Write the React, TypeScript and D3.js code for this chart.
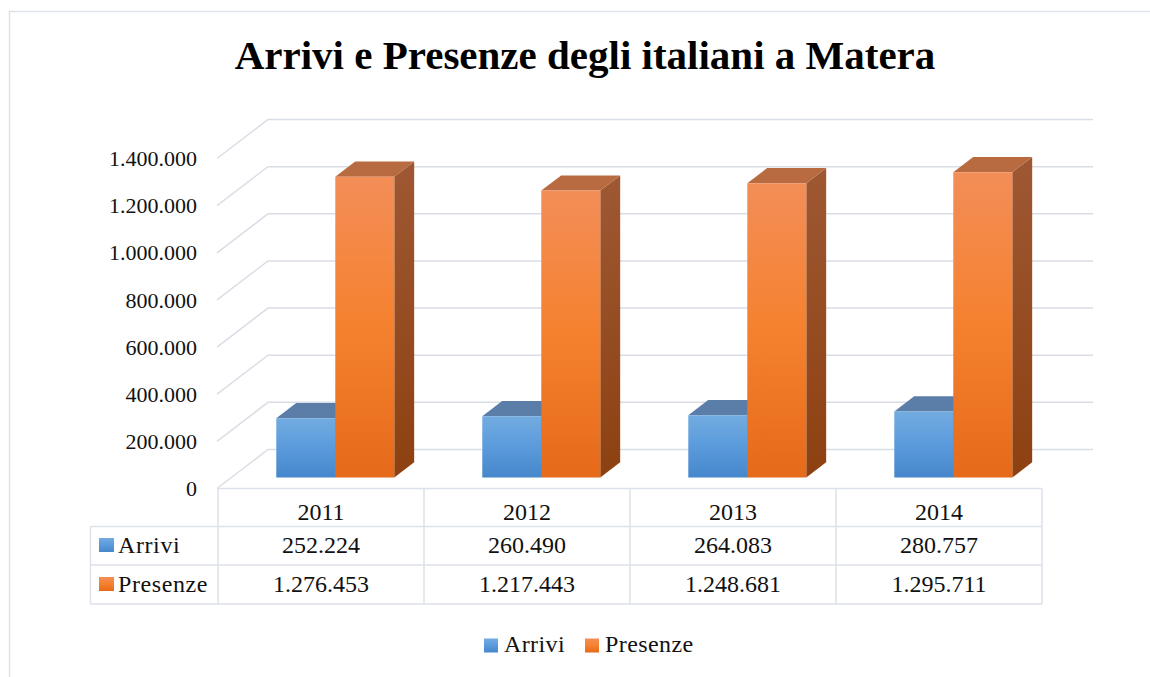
import React, { useRef, useEffect } from 'react';
import * as d3 from 'd3';

const YEARS = ['2011', '2012', '2013', '2014'];
const SERIES = ['Arrivi', 'Presenze'];
const ARRIVI = [252224, 260490, 264083, 280757];
const PRESENZE = [1276453, 1217443, 1248681, 1295711];
const Y_TICKS = [0, 200000, 400000, 600000, 800000, 1000000, 1200000, 1400000];

const FONT = '"Liberation Serif", "Times New Roman", serif';
const GRID = '#d9dde6';

const itFormat = d3.formatLocale({ decimal: ',', thousands: '.', grouping: [3], currency: ['', ''] }).format(',');

const App: React.FC = () => {
  const svgRef = useRef<SVGSVGElement>(null);

  useEffect(() => {
    if (!svgRef.current) return;
    const W = 1150, H = 677;
    const svg = d3.select(svgRef.current);
    svg.selectAll('*').remove();
    svg.attr('width', W).attr('height', H).attr('viewBox', `0 0 ${W} ${H}`);

    // depth of the 3d floor
    const DX = 51, DY = 39;
    const F0 = 0.28, F1 = 0.67;

    const x = d3.scaleBand().domain(YEARS).range([218, 1042]);
    const y = d3.scaleLinear().domain([0, 1400000]).range([488.5, 158.5]);
    const inner = d3.scaleBand().domain(SERIES).range([44, 162]);
    const values: Record<string, number[]> = { Arrivi: ARRIVI, Presenze: PRESENZE };

    const P = (px: number, v: number, f: number): [number, number] => [px + f * DX, y(v) - f * DY];

    const defs = svg.append('defs');
    const grad = (id: string, stops: [string, string][]) => {
      const g = defs.append('linearGradient').attr('id', id)
        .attr('x1', '0').attr('y1', '0').attr('x2', '0').attr('y2', '1');
      stops.forEach(([o, c]) => g.append('stop').attr('offset', o).attr('stop-color', c));
    };
    grad('blueFront', [['0%', '#72abe0'], ['50%', '#5b9bdc'], ['100%', '#4587cb']]);
    grad('orangeFront', [['0%', '#f38e58'], ['50%', '#f5812e'], ['100%', '#e56a19']]);
    grad('orangeSide', [['0%', '#9e5833'], ['100%', '#8d4111']]);
    grad('blueSide', [['0%', '#4c6f95'], ['100%', '#2f5d8f']]);

    const colors: Record<string, { front: string; top: string; side: string }> = {
      Arrivi: { front: 'url(#blueFront)', top: '#5a7ea7', side: 'url(#blueSide)' },
      Presenze: { front: 'url(#orangeFront)', top: '#b86b41', side: 'url(#orangeSide)' },
    };

    // chart frame
    svg.append('path')
      .attr('d', `M9.5,${H + 5} V11.5 H${W + 5}`)
      .attr('fill', 'none').attr('stroke', '#dde1e8').attr('stroke-width', 1.5);

    // title
    svg.append('text')
      .attr('x', 585).attr('y', 69)
      .attr('text-anchor', 'middle')
      .attr('font-family', FONT).attr('font-weight', 'bold').attr('font-size', 41)
      .attr('fill', '#000')
      .text('Arrivi e Presenze degli italiani a Matera');

    // grid: diagonal on left wall + back lines
    const x0 = x.range()[0], xEnd = x.range()[1];
    const grid = svg.append('g');
    Y_TICKS.forEach(t => {
      const [fx, fy] = P(x0 - 1, t, 0);
      const [bx, by] = P(x0 - 1, t, 1);
      const [ex] = P(xEnd, t, 1);
      grid.append('path')
        .attr('d', `M${fx},${fy} L${bx},${by} H${ex}`)
        .attr('fill', 'none').attr('stroke', GRID).attr('stroke-width', 1.5);
    });

    // y tick labels
    svg.append('g').selectAll('text').data(Y_TICKS).join('text')
      .attr('x', 197).attr('y', d => y(d))
      .attr('dy', '0.35em')
      .attr('text-anchor', 'end')
      .attr('font-family', FONT).attr('font-size', 22).attr('fill', '#111')
      .text(d => itFormat(d));

    // bars
    const bars = svg.append('g');
    YEARS.forEach((yr, i) => {
      SERIES.forEach(s => {
        const v = values[s][i];
        const bx0 = x(yr)! + inner(s)!;
        const bx1 = bx0 + inner.bandwidth();
        const c = colors[s];
        const poly = (pts: [number, number][]) => 'M' + pts.map(p => p.join(',')).join('L') + 'Z';
        // side
        bars.append('path')
          .attr('d', poly([P(bx1, v, F0), P(bx1, 0, F0), P(bx1, 0, F1), P(bx1, v, F1)]))
          .attr('fill', c.side);
        // top
        bars.append('path')
          .attr('d', poly([P(bx0, v, F0), P(bx1, v, F0), P(bx1, v, F1), P(bx0, v, F1)]))
          .attr('fill', c.top);
        // front
        bars.append('path')
          .attr('d', poly([P(bx0, v, F0), P(bx1, v, F0), P(bx1, 0, F0), P(bx0, 0, F0)]))
          .attr('fill', c.front);
      });
    });

    // data table
    const rowY = [488.5, 526.5, 565, 604];
    const tableLeft = 90.5;
    const tbl = svg.append('g').attr('stroke', '#dde1ea').attr('stroke-width', 1.5).attr('fill', 'none');
    tbl.append('line').attr('x1', x0).attr('x2', xEnd).attr('y1', rowY[0]).attr('y2', rowY[0]);
    [rowY[1], rowY[2], rowY[3]].forEach(ry =>
      tbl.append('line').attr('x1', tableLeft).attr('x2', xEnd).attr('y1', ry).attr('y2', ry));
    tbl.append('line').attr('x1', tableLeft).attr('x2', tableLeft).attr('y1', rowY[1]).attr('y2', rowY[3]);
    [...YEARS.map(yr => x(yr)!), xEnd].forEach(cx =>
      tbl.append('line').attr('x1', cx).attr('x2', cx).attr('y1', rowY[0]).attr('y2', rowY[3]));

    const txt = svg.append('g').attr('font-family', FONT).attr('font-size', 24).attr('fill', '#111');
    txt.selectAll('text.year').data(YEARS).join('text')
      .attr('class', 'year')
      .attr('x', d => x(d)! + x.bandwidth() / 2).attr('y', 519.5)
      .attr('text-anchor', 'middle').text(d => d);
    SERIES.forEach((s, si) => {
      const by = si === 0 ? 553 : 592;
      txt.selectAll(`text.v${si}`).data(values[s]).join('text')
        .attr('class', `v${si}`)
        .attr('x', (_, i) => x(YEARS[i])! + x.bandwidth() / 2).attr('y', by)
        .attr('text-anchor', 'middle').text(d => itFormat(d));
      svg.append('rect')
        .attr('x', 99).attr('y', by - 15).attr('width', 15).attr('height', 14)
        .attr('fill', si === 0 ? 'url(#blueFront)' : 'url(#orangeFront)');
      txt.append('text').attr('x', 118).attr('y', by).attr('letter-spacing', 0.6).text(s);
    });

    // legend
    const legend = svg.append('g').attr('font-family', FONT).attr('font-size', 24).attr('fill', '#111');
    const legX = [484, 585];
    SERIES.forEach((s, si) => {
      legend.append('rect')
        .attr('x', legX[si]).attr('y', 638.5).attr('width', 14).attr('height', 14)
        .attr('fill', si === 0 ? 'url(#blueFront)' : 'url(#orangeFront)');
      legend.append('text').attr('x', legX[si] + 20).attr('y', 652).attr('letter-spacing', 0.4).text(s);
    });
  }, []);

  return (
    <svg ref={svgRef} style={{ position: 'absolute', left: 0, top: 0, background: '#fff' }} />
  );
};

export default App;
